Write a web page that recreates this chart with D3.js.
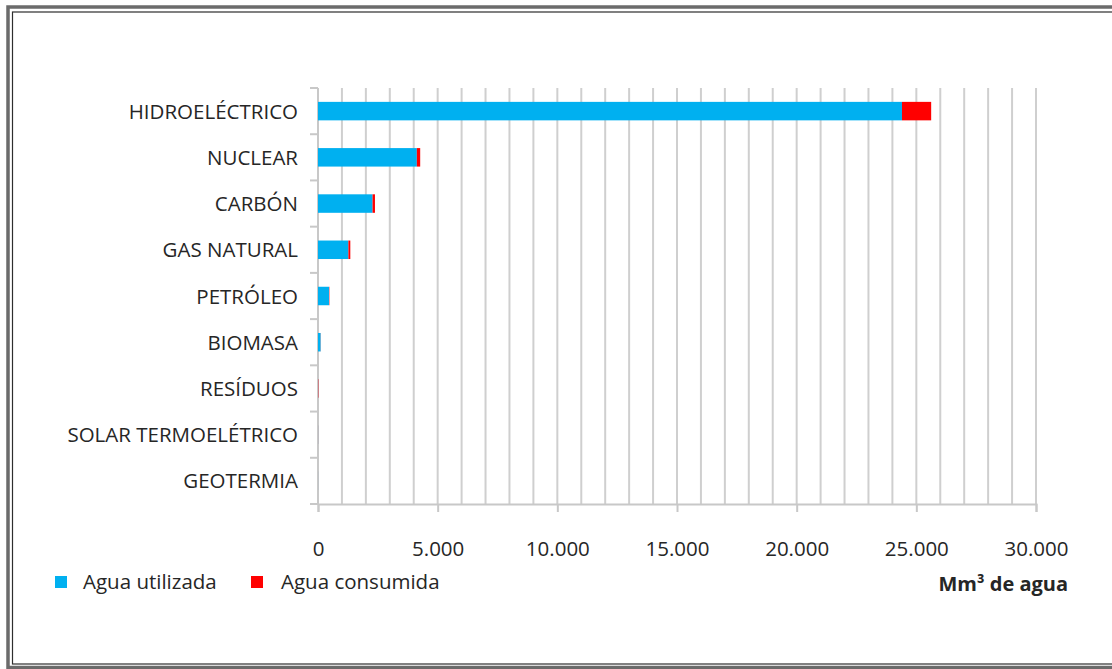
<!DOCTYPE html>
<html>
<head>
<meta charset="utf-8">
<script src="https://cdn.jsdelivr.net/npm/d3@7"></script>
<style>
  html, body { margin: 0; padding: 0; background: #fff; }
  svg { display: block; }
  text { font-family: "Open Sans", "DejaVu Sans", sans-serif; fill: #262626; }
</style>
</head>
<body>
<svg id="chart" width="1112" height="669"></svg>
<script>
// ---- Data ----
const categories = ["HIDROELÉCTRICO", "NUCLEAR", "CARBÓN", "GAS NATURAL", "PETRÓLEO", "BIOMASA", "RESÍDUOS", "SOLAR TERMOELÉTRICO", "GEOTERMIA"];
const aguaUtilizada = [24400, 4130, 2280, 1270, 460, 110, 5, 3, 2];
const aguaConsumida = [1220, 140, 100, 80, 15, 5, 15, 2, 1];
const seriesNames = ["Agua utilizada", "Agua consumida"];
const xTickValues = [0, 5000, 10000, 15000, 20000, 25000, 30000];
const axisTitle = "Mm³ de agua";

(function () {
// ---- Layout ----
const svg = d3.select("#chart");
const colors = ["#00B0F0", "#FF0000"];
const pLeft = 318, pRight = 1036, pTop = 88, pBottom = 504;
const fs = "20.5px";

// frame
svg.append("rect").attr("x", 8).attr("y", 7).attr("width", 1200).attr("height", 660.5)
  .attr("fill", "none").attr("stroke", "#6b6b6b").attr("stroke-width", 3.5);
svg.append("rect").attr("x", 12.5).attr("y", 12).attr("width", 1200).attr("height", 652)
  .attr("fill", "none").attr("stroke", "#2e2e2e").attr("stroke-width", 1.2);

const x = d3.scaleLinear().domain([0, 30000]).range([pLeft, pRight]);
const y = d3.scaleBand().domain(categories).range([pTop, pBottom]).paddingInner(0.6).paddingOuter(0.3);

const locale = d3.formatLocale({ decimal: ",", thousands: ".", grouping: [3], currency: ["", ""] });
const fmt = locale.format(",");

// gridlines every 1000
const grid = d3.range(1000, 30001, 1000);
svg.append("g").selectAll("line").data(grid).join("line")
  .attr("x1", d => x(d)).attr("x2", d => x(d))
  .attr("y1", pTop).attr("y2", pBottom)
  .attr("stroke", "#cfcfcf").attr("stroke-width", 2);

// x axis
const xAxis = d3.axisBottom(x).tickValues(xTickValues).tickFormat(fmt).tickSize(8).tickPadding(29);
const gx = svg.append("g").attr("transform", `translate(0,${pBottom})`).call(xAxis);
gx.select(".domain").attr("stroke", "#c8c8c8").attr("stroke-width", 2);
gx.selectAll(".tick line").attr("stroke", "#c8c8c8").attr("stroke-width", 2);
gx.selectAll(".tick text").attr("font-size", fs).attr("fill", "#262626")
  .attr("font-family", "'Open Sans', sans-serif");

// y axis line and category separators
const bounds = d3.range(categories.length + 1).map(i => pTop + i * (pBottom - pTop) / categories.length);
svg.append("line").attr("x1", pLeft).attr("x2", pLeft).attr("y1", pTop).attr("y2", pBottom)
  .attr("stroke", "#c8c8c8").attr("stroke-width", 2);
svg.append("g").selectAll("line").data(bounds).join("line")
  .attr("x1", pLeft - 8).attr("x2", pLeft).attr("y1", d => d).attr("y2", d => d)
  .attr("stroke", "#c8c8c8").attr("stroke-width", 2);

// category labels
const bandCenter = c => y(c) + y.bandwidth() / 2;
svg.append("g").selectAll("text").data(categories).join("text")
  .attr("x", 298).attr("y", d => bandCenter(d) + 7.5)
  .attr("text-anchor", "end").attr("font-size", fs).text(d => d);

// stacked bars
const rows = categories.map((c, i) => ({ cat: c, u: aguaUtilizada[i], c: aguaConsumida[i] }));
const stack = d3.stack().keys(["u", "c"])(rows);
svg.append("g").selectAll("g").data(stack).join("g")
  .attr("fill", (d, i) => colors[i])
  .selectAll("rect").data(d => d).join("rect")
  .attr("x", d => x(d[0])).attr("width", d => x(d[1]) - x(d[0]))
  .attr("y", d => y(d.data.cat)).attr("height", y.bandwidth());

// legend
const legendItems = [
  { name: seriesNames[0], color: colors[0], sx: 55, tx: 83 },
  { name: seriesNames[1], color: colors[1], sx: 251, tx: 281 }
];
const lg = svg.append("g");
legendItems.forEach(it => {
  lg.append("rect").attr("x", it.sx).attr("y", 576).attr("width", 12).attr("height", 12).attr("fill", it.color);
  lg.append("text").attr("x", it.tx).attr("y", 589).attr("font-size", fs).text(it.name);
});

// axis title
svg.append("text").attr("x", 1068).attr("y", 591).attr("text-anchor", "end")
  .attr("font-size", "20px").attr("font-weight", "bold").attr("fill", "#111").text(axisTitle);
})();
</script>
</body>
</html>
